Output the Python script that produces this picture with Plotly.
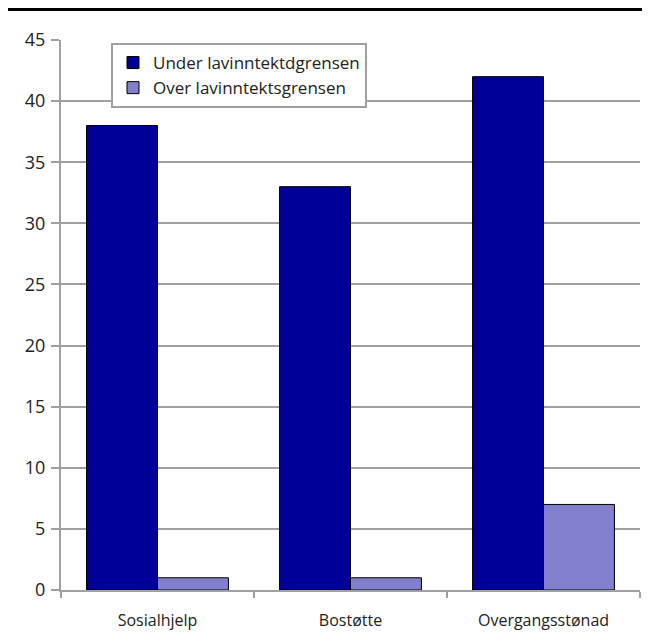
import plotly.graph_objects as go

categories = ["Sosialhjelp", "Bostøtte", "Overgangsstønad"]
under_values = [38, 33, 42]
over_values = [1, 1, 7]
series_names = ["Under lavinntektdgrensen", "Over lavinntektsgrensen"]
y_ticks = [0, 5, 10, 15, 20, 25, 30, 35, 40, 45]

W, H = 650, 644
OFF = 8  # page body margin
L, R, T, B = 61 - OFF, 18, 40 - OFF, 62
pw, ph = W - L - R, H - T - B

FONT = "Open Sans"

fig = go.Figure()
fig.add_trace(go.Bar(x=categories, y=under_values, name=series_names[0],
                     marker=dict(color="#000099", line=dict(color="black", width=1))))
fig.add_trace(go.Bar(x=categories, y=over_values, name=series_names[1],
                     marker=dict(color="#8080CC", line=dict(color="black", width=1))))

fig.update_layout(
    width=W, height=H,
    margin=dict(l=L, r=R, t=T, b=B),
    paper_bgcolor="white", plot_bgcolor="white",
    barmode="group", bargap=0.265, bargroupgap=0,
    font=dict(family=FONT, size=16, color="#222222"),
    showlegend=True,
    legend=dict(x=(111 - 61) / pw, y=1 - 3 / ph, xanchor="left", yanchor="top",
                bgcolor="white", bordercolor="#a0a0a0", borderwidth=2,
                font=dict(size=17), itemwidth=30, tracegroupgap=0),
    xaxis=dict(type="category", tickson="boundaries", ticks="outside", ticklen=6,
               tickcolor="#a0a0a0", tickwidth=2, showline=True, linecolor="#a0a0a0",
               linewidth=2, showgrid=False, tickfont=dict(size=16),
               ticklabelstandoff=15),
    yaxis=dict(range=[0, 45], tickvals=y_ticks, ticks="outside", ticklen=8,
               tickcolor="#a0a0a0", tickwidth=2, showline=True, linecolor="#a0a0a0",
               linewidth=2, showgrid=True, gridcolor="#a0a0a0", gridwidth=2,
               zeroline=False, tickfont=dict(size=18), ticklabelstandoff=2),
    shapes=[dict(type="line", xref="paper", yref="paper",
                 x0=-L / pw, x1=1 + R / pw, y0=1 + (T - 1.5) / ph, y1=1 + (T - 1.5) / ph,
                 line=dict(color="black", width=3))],
)

fig.write_html("out.html")
